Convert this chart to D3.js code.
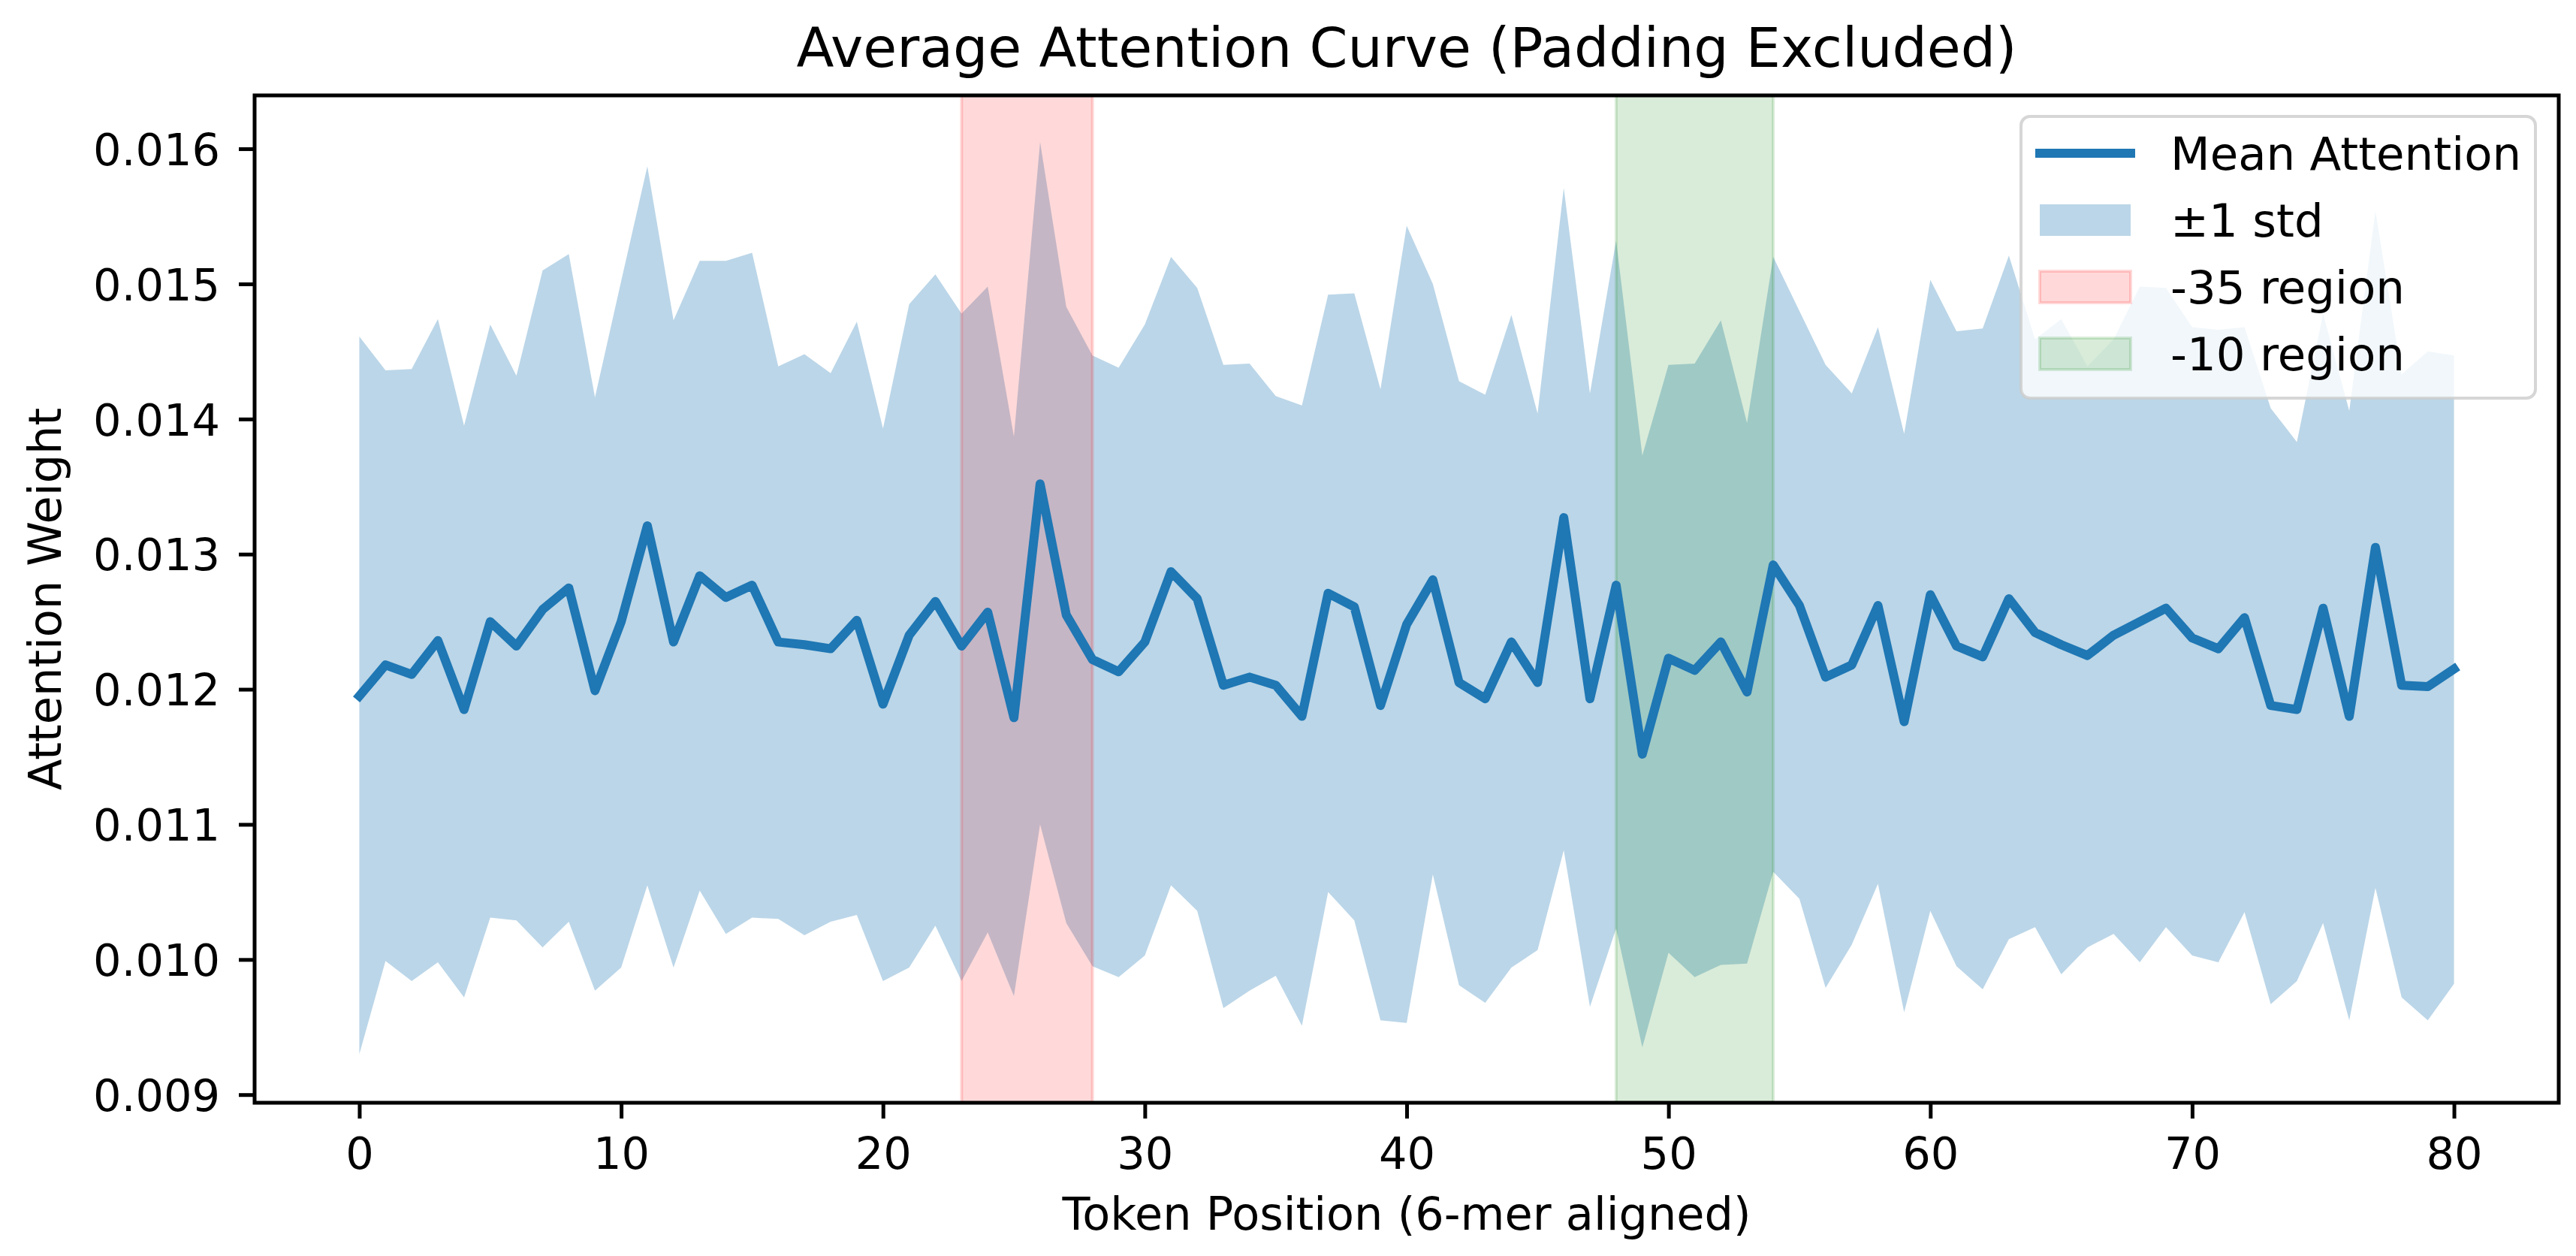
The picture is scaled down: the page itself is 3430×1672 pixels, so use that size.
<!DOCTYPE html>
<html>
<head>
<meta charset="utf-8">
<script src="https://cdn.jsdelivr.net/npm/d3@7"></script>
<style>
  body { margin: 0; background: #fff; }
  svg { display: block; font-family: "DejaVu Sans", sans-serif; }
</style>
</head>
<body>
<div id="chart"></div>
<script>
// token positions 0..80
var positions = d3.range(0, 81);

// mean attention per token
var meanAttn = [
  0.01195, 0.01218, 0.01211, 0.01236, 0.01185, 0.01250, 0.01232, 0.01259, 0.01275, 0.01199,
  0.01250, 0.01321, 0.01235, 0.01284, 0.01268, 0.01277, 0.01235, 0.01233, 0.01230, 0.01251,
  0.01189, 0.01240, 0.01265, 0.01232, 0.01257, 0.01179, 0.01352, 0.01255, 0.01222, 0.01213,
  0.01235, 0.01287, 0.01267, 0.01203, 0.01209, 0.01203, 0.01180, 0.01271, 0.01261, 0.01188,
  0.01248, 0.01281, 0.01205, 0.01193, 0.01235, 0.01205, 0.01327, 0.01193, 0.01277, 0.01152,
  0.01223, 0.01214, 0.01235, 0.01198, 0.01292, 0.01262, 0.01209, 0.01218, 0.01262, 0.01176,
  0.01270, 0.01232, 0.01224, 0.01267, 0.01242, 0.01233, 0.01225, 0.01240, 0.01250, 0.01260,
  0.01238, 0.01230, 0.01253, 0.01188, 0.01185, 0.01260, 0.01180, 0.01305, 0.01203, 0.01202,
  0.01215
];

// mean + 1 std
var upperBand = [
  0.01461, 0.01436, 0.01437, 0.01474, 0.01395, 0.01470, 0.01432, 0.01510, 0.01522, 0.01416,
  0.01502, 0.01587, 0.01473, 0.01517, 0.01517, 0.01523, 0.01439, 0.01448, 0.01434, 0.01472,
  0.01393, 0.01485, 0.01507, 0.01478, 0.01498, 0.01387, 0.01605, 0.01483, 0.01447, 0.01438,
  0.01470, 0.01520, 0.01497, 0.01440, 0.01441, 0.01417, 0.01410, 0.01492, 0.01493, 0.01422,
  0.01543, 0.01500, 0.01428, 0.01418, 0.01477, 0.01404, 0.01571, 0.01419, 0.01532, 0.01373,
  0.01440, 0.01441, 0.01473, 0.01397, 0.01520, 0.01480, 0.01440, 0.01419, 0.01468, 0.01389,
  0.01503, 0.01465, 0.01467, 0.01521, 0.01459, 0.01474, 0.01439, 0.01459, 0.01498, 0.01497,
  0.01468, 0.01466, 0.01468, 0.01408, 0.01383, 0.01478, 0.01406, 0.01554, 0.01433, 0.01450,
  0.01447
];

// mean - 1 std
var lowerBand = [
  0.00930, 0.00999, 0.00984, 0.00998, 0.00972, 0.01031, 0.01029, 0.01009, 0.01028, 0.00977,
  0.00994, 0.01055, 0.00994, 0.01051, 0.01019, 0.01031, 0.01030, 0.01018, 0.01028, 0.01033,
  0.00984, 0.00994, 0.01025, 0.00984, 0.01020, 0.00973, 0.01100, 0.01027, 0.00995, 0.00987,
  0.01003, 0.01055, 0.01036, 0.00964, 0.00977, 0.00988, 0.00951, 0.01050, 0.01029, 0.00955,
  0.00953, 0.01063, 0.00981, 0.00968, 0.00994, 0.01007, 0.01081, 0.00965, 0.01023, 0.00935,
  0.01005, 0.00987, 0.00996, 0.00997, 0.01065, 0.01045, 0.00979, 0.01011, 0.01056, 0.00961,
  0.01036, 0.00995, 0.00978, 0.01015, 0.01024, 0.00989, 0.01009, 0.01019, 0.00998, 0.01024,
  0.01003, 0.00998, 0.01035, 0.00967, 0.00984, 0.01027, 0.00955, 0.01053, 0.00972, 0.00955,
  0.00982
];

// highlighted regions
var regions = [
  { label: "-35 region", start: 23, end: 28, color: "#ff0000" },
  { label: "-10 region", start: 48, end: 54, color: "#008000" }
];

var xTicks = [0, 10, 20, 30, 40, 50, 60, 70, 80];
var yTicks = [0.009, 0.010, 0.011, 0.012, 0.013, 0.014, 0.015, 0.016];

var blue = "#1f77b4";

// dimensions
var W = 3430, H = 1672;
var margin = { top: 127, right: 23, bottom: 204, left: 339 },
    width = W - margin.left - margin.right,
    height = H - margin.top - margin.bottom;

var svg = d3.select("#chart")
    .append("svg")
    .attr("width", W)
    .attr("height", H);

var g = svg.append("g")
    .attr("transform", `translate(${margin.left}, ${margin.top})`);

var x = d3.scaleLinear().domain([-4, 84]).range([0, width]);
var y = d3.scaleLinear().domain([0.00894, 0.016395]).range([height, 0]);

g.append("clipPath").attr("id", "plotclip")
    .append("rect").attr("width", width).attr("height", height);

var plot = g.append("g").attr("clip-path", "url(#plotclip)");

// std band
var area = d3.area()
    .x(i => x(positions[i]))
    .y0(i => y(lowerBand[i]))
    .y1(i => y(upperBand[i]));

plot.append("path")
    .datum(d3.range(positions.length))
    .attr("d", area)
    .attr("fill", blue)
    .attr("fill-opacity", 0.3);

// region spans
plot.selectAll("rect.span")
    .data(regions)
    .enter()
    .append("rect")
    .attr("class", "span")
    .attr("x", d => x(d.start))
    .attr("width", d => x(d.end) - x(d.start))
    .attr("y", 0)
    .attr("height", height)
    .attr("fill", d => d.color)
    .attr("fill-opacity", 0.15)
    .attr("stroke", d => d.color)
    .attr("stroke-opacity", 0.15)
    .attr("stroke-width", 4);

// mean line
var line = d3.line()
    .x(i => x(positions[i]))
    .y(i => y(meanAttn[i]));

plot.append("path")
    .datum(d3.range(positions.length))
    .attr("d", line)
    .attr("fill", "none")
    .attr("stroke", blue)
    .attr("stroke-width", 12)
    .attr("stroke-linejoin", "round")
    .attr("stroke-linecap", "square");

// axes
var xAxis = g.append("g")
    .attr("transform", `translate(0, ${height})`)
    .call(d3.axisBottom(x).tickValues(xTicks).tickSize(21).tickSizeOuter(0).tickPadding(25));

var yAxis = g.append("g")
    .call(d3.axisLeft(y).tickValues(yTicks).tickFormat(d3.format(".3f")).tickSize(21).tickSizeOuter(0).tickPadding(25));

[xAxis, yAxis].forEach(a => {
    a.select(".domain").remove();
    a.selectAll(".tick line").attr("stroke", "#000").attr("stroke-width", 5);
    a.selectAll(".tick text")
        .attr("fill", "#000")
        .style("font-size", "59px")
        .style("font-family", "DejaVu Sans, sans-serif");
});
yAxis.selectAll(".tick text").attr("dy", "0.36em");

// frame
g.append("rect")
    .attr("width", width)
    .attr("height", height)
    .attr("fill", "none")
    .attr("stroke", "#000")
    .attr("stroke-width", 5);

// title
svg.append("text")
    .attr("x", margin.left + width / 2)
    .attr("y", 89)
    .attr("text-anchor", "middle")
    .style("font-size", "73px")
    .text("Average Attention Curve (Padding Excluded)");

// X label
svg.append("text")
    .attr("x", margin.left + width / 2)
    .attr("y", 1637)
    .attr("text-anchor", "middle")
    .style("font-size", "60.5px")
    .text("Token Position (6-mer aligned)");

// Y label
svg.append("text")
    .attr("transform", `translate(81, ${margin.top + height / 2}) rotate(-90)`)
    .attr("text-anchor", "middle")
    .style("font-size", "60.5px")
    .text("Attention Weight");

// legend
var legendItems = [
    { label: "Mean Attention", type: "line", color: blue },
    { label: "\u00b11 std", type: "band", color: blue },
    { label: regions[0].label, type: "span", color: regions[0].color },
    { label: regions[1].label, type: "span", color: regions[1].color }
];

var legend = svg.append("g").attr("transform", "translate(2691, 155)");

legend.append("rect")
    .attr("width", 685)
    .attr("height", 375)
    .attr("rx", 12)
    .attr("fill", "#fff")
    .attr("fill-opacity", 0.8)
    .attr("stroke", "#cccccc")
    .attr("stroke-opacity", 0.8)
    .attr("stroke-width", 4);

var rows = legend.selectAll("g.row")
    .data(legendItems)
    .enter()
    .append("g")
    .attr("transform", (d, i) => `translate(0, ${49 + i * 89})`);

rows.filter(d => d.type === "line")
    .append("line")
    .attr("x1", 19).attr("x2", 152)
    .attr("stroke", d => d.color)
    .attr("stroke-width", 12);

rows.filter(d => d.type === "band")
    .append("rect")
    .attr("x", 25).attr("y", -21)
    .attr("width", 121).attr("height", 42)
    .attr("fill", d => d.color)
    .attr("fill-opacity", 0.3);

rows.filter(d => d.type === "span")
    .append("rect")
    .attr("x", 25).attr("y", -21)
    .attr("width", 121).attr("height", 42)
    .attr("fill", d => d.color)
    .attr("fill-opacity", 0.15)
    .attr("stroke", d => d.color)
    .attr("stroke-opacity", 0.15)
    .attr("stroke-width", 4);

rows.append("text")
    .attr("x", 199)
    .attr("y", 22)
    .style("font-size", "61px")
    .text(d => d.label);
</script>
</body>
</html>
